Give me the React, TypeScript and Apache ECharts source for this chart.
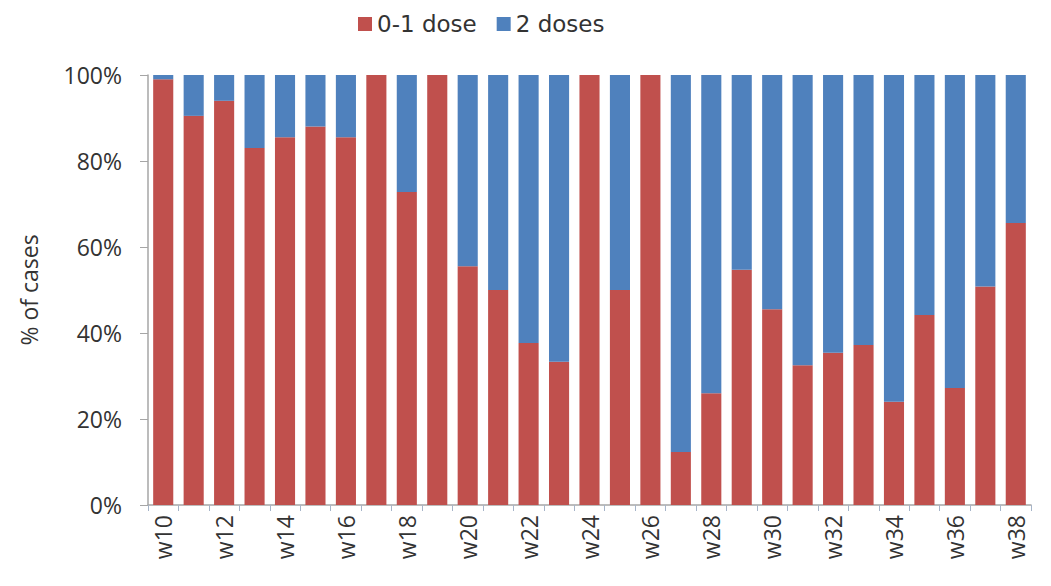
import React, { useEffect, useRef } from "react";
import * as echarts from "echarts";

const weeks = [
  "w10", "w11", "w12", "w13", "w14", "w15", "w16", "w17", "w18", "w19",
  "w20", "w21", "w22", "w23", "w24", "w25", "w26", "w27", "w28", "w29",
  "w30", "w31", "w32", "w33", "w34", "w35", "w36", "w37", "w38",
];
const doses01 = [
  99, 90.5, 94, 83, 85.5, 88, 85.5, 100, 72.8, 100,
  55.5, 50, 37.7, 33.3, 100, 50, 100, 12.3, 26, 54.7,
  45.5, 32.5, 35.4, 37.2, 24, 44.2, 27.2, 50.8, 65.6,
];
const doses2 = [
  1, 9.5, 6, 17, 14.5, 12, 14.5, 0, 27.2, 0,
  44.5, 50, 62.3, 66.7, 0, 50, 0, 87.7, 74, 45.3,
  54.5, 67.5, 64.6, 62.8, 76, 55.8, 72.8, 49.2, 34.4,
];
const yTicks = [0, 20, 40, 60, 80, 100];

const FONT = "'Open Sans', 'Liberation Sans', sans-serif";
const LEGEND_FONT = "'DejaVu Sans', 'Open Sans', sans-serif";

export default function App() {
  const ref = useRef<HTMLDivElement>(null);
  useEffect(() => {
    if (!ref.current) return;
    const chart = echarts.init(ref.current, undefined, { renderer: "svg" });
    chart.setOption({
      animation: false,
      backgroundColor: "#ffffff",
      textStyle: { fontFamily: FONT },
      legend: {
        top: 0,
        left: 345,
        padding: [3, 5, 0, 5],
        itemWidth: 14,
        itemHeight: 14,
        itemGap: 20,
        icon: "rect",
        textStyle: { fontSize: 23, color: "#333", fontFamily: LEGEND_FONT, lineHeight: 26 },
        data: ["0-1 dose", "2 doses"],
      },
      grid: { left: 140, right: 12, top: 67, bottom: 73, containLabel: false },
      xAxis: {
        type: "category",
        data: weeks,
        axisLine: { lineStyle: { color: "#a6a6a6", width: 1.5 } },
        axisTick: { show: true, interval: 0, length: 6, lineStyle: { color: "#a6b4c8" } },
        axisLabel: {
          interval: 1,
          rotate: 90,
          fontSize: 23,
          color: "#333",
          margin: 10,
          fontFamily: FONT,
        },
      },
      yAxis: {
        type: "value",
        min: 0,
        max: 100,
        interval: 20,
        name: "% of cases",
        nameLocation: "middle",
        nameGap: 108,
        nameTextStyle: { fontSize: 23, color: "#333", fontFamily: FONT },
        axisLine: { show: true, lineStyle: { color: "#a6a6a6", width: 1.5 } },
        axisTick: { show: true, length: 8, lineStyle: { color: "#a6a6a6" } },
        splitLine: { show: false },
        axisLabel: {
          fontSize: 23,
          color: "#333",
          margin: 26,
          fontFamily: FONT,
          formatter: (v: number) => (yTicks.includes(v) ? v + "%" : ""),
        },
      },
      series: [
        {
          name: "0-1 dose",
          type: "bar",
          stack: "total",
          data: doses01,
          barCategoryGap: "34%",
          itemStyle: { color: "#C0504D" },
        },
        {
          name: "2 doses",
          type: "bar",
          stack: "total",
          data: doses2,
          barCategoryGap: "34%",
          itemStyle: { color: "#4F81BD" },
        },
      ],
    });
    return () => chart.dispose();
  }, []);
  return <div ref={ref} style={{ width: 1035, height: 570 }} />;
}
